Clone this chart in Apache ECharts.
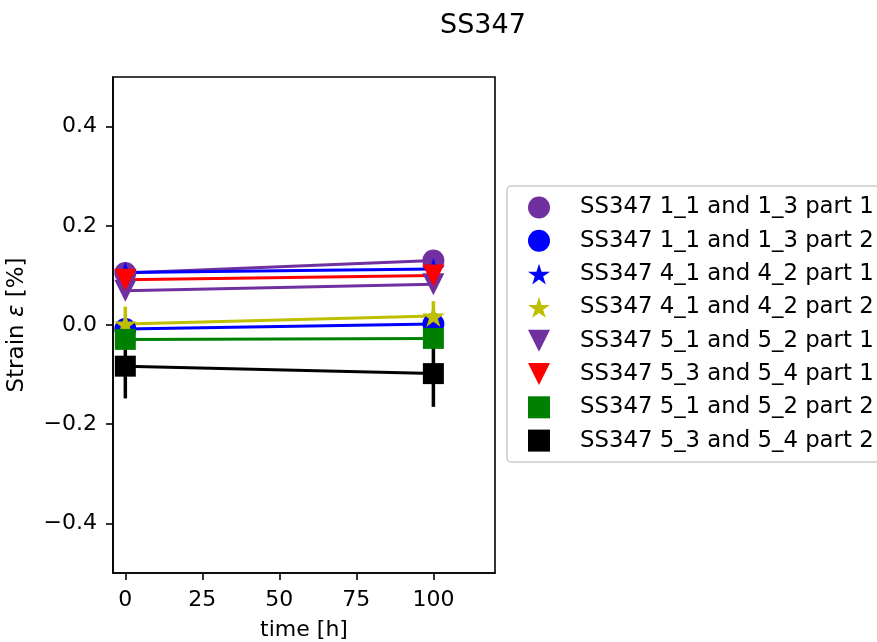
<!DOCTYPE html>
<html>
<head>
<meta charset="utf-8">
<script src="https://cdn.jsdelivr.net/npm/echarts@6/dist/echarts.min.js"></script>
<style>
html,body{margin:0;padding:0;background:#fff;}
#chart{width:877px;height:642px;}
</style>
</head>
<body>
<div id="chart"></div>
<script>
// ---- data ----
const times = [0, 100];
const seriesNames = [
  'SS347 1_1 and 1_3 part 1',
  'SS347 1_1 and 1_3 part 2',
  'SS347 4_1 and 4_2 part 1',
  'SS347 4_1 and 4_2 part 2',
  'SS347 5_1 and 5_2 part 1',
  'SS347 5_3 and 5_4 part 1',
  'SS347 5_1 and 5_2 part 2',
  'SS347 5_3 and 5_4 part 2'
];
const strain_1_1_p1 = [0.105, 0.130];
const strain_1_1_p2 = [-0.008, 0.002];
const strain_4_1_p1 = [0.106, 0.113];
const strain_4_1_p2 = [0.002, 0.018];
const strain_5_1_p1 = [0.069, 0.082];
const strain_5_3_p1 = [0.091, 0.100];
const strain_5_1_p2 = [-0.029, -0.027];
const strain_5_3_p2 = [-0.083, -0.098];

const err_1_1_p1 = [0, 0];
const err_1_1_p2 = [0, 0];
const err_4_1_p1 = [0, 0];
const err_4_1_p2 = [0.035, 0.030];
const err_5_1_p1 = [0, 0];
const err_5_3_p1 = [0, 0];
const err_5_1_p2 = [0, 0];
const err_5_3_p2 = [0.065, 0.067];

const xTicks = [0, 25, 50, 75, 100];
const yTicks = [-0.4, -0.2, 0.0, 0.2, 0.4];

// ---- styling ----
const FONT = 'DejaVu Sans';
const STAR = 'path://M1,0L1.2245,0.691L1.9511,0.691L1.3633,1.118L1.5878,1.809L1,1.382L0.4122,1.809L0.6367,1.118L0.0489,0.691L0.7755,0.691Z';
const TRI_DOWN = 'path://M0,0L2,0L1,2Z';
const SQUARE = 'path://M0,0L1,0L1,1L0,1Z';
const values = [strain_1_1_p1, strain_1_1_p2, strain_4_1_p1, strain_4_1_p2, strain_5_1_p1, strain_5_3_p1, strain_5_1_p2, strain_5_3_p2];
const errors = [err_1_1_p1, err_1_1_p2, err_4_1_p1, err_4_1_p2, err_5_1_p1, err_5_3_p1, err_5_1_p2, err_5_3_p2];
const colors = ['#7030a0', '#0000ff', '#0000ff', '#bfbf00', '#7030a0', '#ff0000', '#008000', '#000000'];
const symbols = ['circle', 'circle', STAR, STAR, TRI_DOWN, TRI_DOWN, SQUARE, SQUARE];
const symSizes = [22, 22, 23, 23, 22, 22, 21, 21];

const series = [];
seriesNames.forEach((name, k) => {
  const col = colors[k];
  series.push({
    type: 'custom',
    name: name + ' err',
    clip: true,
    silent: true,
    data: times.map((t, i) => [t, values[k][i] - errors[k][i], values[k][i] + errors[k][i]]),
    encode: { x: 0, y: [1, 2] },
    renderItem: function (params, api) {
      const p1 = api.coord([api.value(0), api.value(1)]);
      const p2 = api.coord([api.value(0), api.value(2)]);
      return {
        type: 'line',
        shape: { x1: p1[0], y1: p1[1], x2: p2[0], y2: p2[1] },
        style: { stroke: col, lineWidth: 3.5, lineCap: 'butt' }
      };
    }
  });
  series.push({
    type: 'line',
    name: name,
    data: times.map((t, i) => [t, values[k][i]]),
    symbol: symbols[k],
    symbolSize: symSizes[k],
    symbolKeepAspect: true,
    showAllSymbol: true,
    lineStyle: { color: col, width: 3 },
    itemStyle: { color: col, borderWidth: 0 },
    emphasis: { disabled: true },
    silent: true
  });
});

const fmtY = v => {
  const s = Math.abs(v).toFixed(1);
  return (v < -1e-9 ? '\u2212' : '') + s;
};

const chart = echarts.init(document.getElementById('chart'), null, { renderer: 'canvas' });
chart.setOption({
  animation: false,
  backgroundColor: '#ffffff',
  textStyle: { fontFamily: FONT },
  title: {
    text: 'SS347',
    left: 435,
    top: 7,
    textStyle: { fontFamily: FONT, fontSize: 27, fontWeight: 'normal', color: '#000' }
  },
  graphic: [{
    type: 'rect',
    z: 0,
    silent: true,
    shape: { x: 507, y: 186, width: 420, height: 276, r: 4 },
    style: { fill: '#ffffff', stroke: '#cccccc', lineWidth: 1.5 }
  }],
  grid: {
    left: 113, right: 382, top: 77, bottom: 69,
    show: true, borderColor: '#000', borderWidth: 1.6,
    containLabel: false, outerBoundsMode: 'none'
  },
  xAxis: {
    type: 'value',
    min: -4, max: 120,
    name: 'time [h]',
    nameLocation: 'middle',
    nameGap: 46,
    nameTextStyle: { fontFamily: FONT, fontSize: 22, color: '#000' },
    axisLine: { show: true, onZero: false, lineStyle: { color: '#000', width: 1.6 } },
    axisTick: { show: true, length: 7, customValues: xTicks, lineStyle: { color: '#000', width: 1.6 } },
    axisLabel: { customValues: xTicks, margin: 16, fontFamily: FONT, fontSize: 22, color: '#000' },
    splitLine: { show: false }
  },
  yAxis: {
    type: 'value',
    min: -0.5, max: 0.5,
    name: 'Strain {e|ε} [%]',
    nameLocation: 'middle',
    nameGap: 84,
    nameRotate: 90,
    nameTextStyle: {
      fontFamily: FONT, fontSize: 23, color: '#000',
      rich: { e: { fontFamily: FONT, fontSize: 23, fontStyle: 'italic', color: '#000' } }
    },
    axisLine: { show: true, onZero: false, lineStyle: { color: '#000', width: 1.6 } },
    axisTick: { show: true, length: 7, customValues: yTicks, lineStyle: { color: '#000', width: 1.6 } },
    axisLabel: { customValues: yTicks, margin: 16, padding: [4, 0, 0, 0], fontFamily: FONT, fontSize: 22, color: '#000', formatter: fmtY },
    splitLine: { show: false }
  },
  legend: {
    orient: 'vertical',
    left: 528,
    top: 196,
    padding: 0,
    itemWidth: 22,
    itemHeight: 22,
    itemGap: 10.3,
    borderWidth: 0,
    selectedMode: false,
    textStyle: { fontFamily: FONT, fontSize: 22.8, color: '#000', lineHeight: 22, padding: [0, 0, 0, 25] },
    data: seriesNames.map((n, k) => ({ name: n, icon: symbols[k], itemStyle: { color: colors[k] } }))
  },
  series: series
});
</script>
</body>
</html>
